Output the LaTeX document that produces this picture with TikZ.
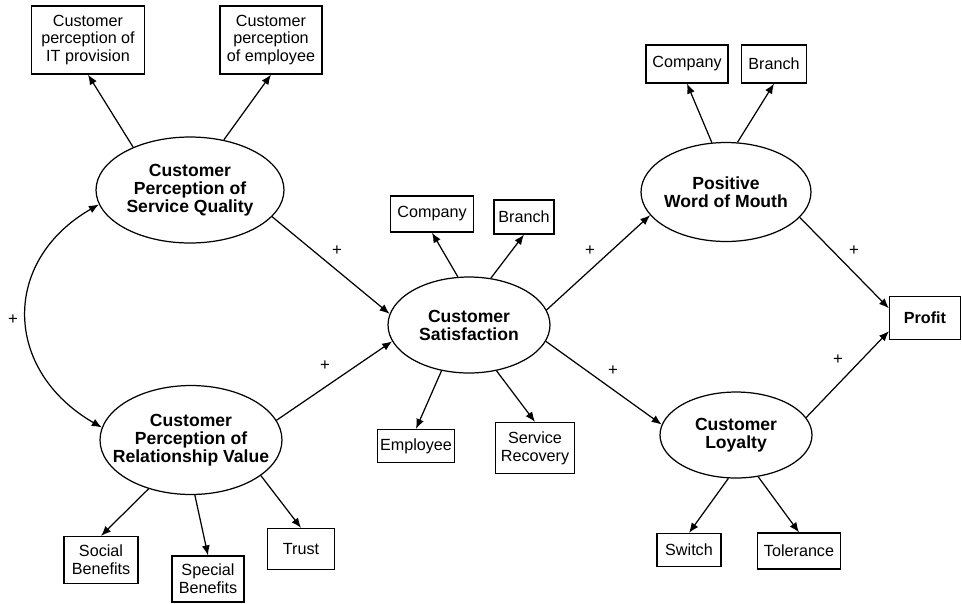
\documentclass[tikz,border=0pt]{standalone}
\usepackage{fontspec}
\setmainfont{Liberation Sans}
\usetikzlibrary{shapes.geometric,arrows.meta}
\begin{document}
\begin{tikzpicture}[x=0.02cm, y=-0.02cm, line width=0.7pt,
        >={Latex[length=2mm,width=1.6mm]},
        box/.style={draw, rectangle, inner sep=1pt, align=center, font=\fontsize{9.2}{10.2}\selectfont},
        lv/.style={draw, ellipse, inner sep=-10pt, align=center, font=\fontsize{10}{10.2}\selectfont\bfseries},
        sign/.style={inner sep=0pt, font=\fontsize{9.5}{9.5}\selectfont}]
            \useasboundingbox (0,0) rectangle (962,603);
            \node[box, minimum width=2.26cm, minimum height=1.36cm] (itp) at (88,40) {Customer\\perception of\\IT provision};
            \node[box, minimum width=2.04cm, minimum height=1.36cm] (pemp) at (271,40) {Customer\\perception\\of employee};
            \node[lv, minimum width=3.76cm, minimum height=2.12cm] (sq) at (190,190) {Customer\\Perception of\\Service Quality};
            \node[lv, minimum width=3.64cm, minimum height=2.18cm] (rv) at (191,440) {Customer\\Perception of\\Relationship Value};
            \node[box, minimum width=1.48cm, minimum height=0.94cm] (soc) at (101,560) {Social\\Benefits};
            \node[box, minimum width=1.44cm, minimum height=0.92cm] (spe) at (208,579) {Special\\Benefits};
            \node[box, minimum width=1.34cm, minimum height=0.82cm] (tru) at (301,549) {Trust};
            \node[lv, minimum width=3.24cm, minimum height=1.92cm] (sat) at (469,325) {Customer\\Satisfaction};
            \node[box, minimum width=1.66cm, minimum height=0.72cm] (scomp) at (432,214) {Company};
            \node[box, minimum width=1.2cm, minimum height=0.68cm] (sbr) at (524,217) {Branch};
            \node[box, minimum width=1.54cm, minimum height=0.66cm] (semp) at (416,446) {Employee};
            \node[box, minimum width=1.58cm, minimum height=1.02cm] (srec) at (535,448) {Service\\Recovery};
            \node[lv, minimum width=3.4cm, minimum height=1.98cm] (wom) at (726,192) {Positive\\Word of Mouth};
            \node[box, minimum width=1.64cm, minimum height=0.76cm] (wcomp) at (687,64) {Company};
            \node[box, minimum width=1.3cm, minimum height=0.76cm] (wbr) at (774,64) {Branch};
            \node[lv, minimum width=3.04cm, minimum height=1.72cm] (loy) at (736,435) {Customer\\Loyalty};
            \node[box, minimum width=1.28cm, minimum height=0.66cm] (sw) at (689,550) {Switch};
            \node[box, minimum width=1.66cm, minimum height=0.72cm] (tol) at (799,551) {Tolerance};
            \node[box, minimum width=1.42cm, minimum height=0.86cm] (prof) at (925,318) {\bfseries Profit};
            \node[sign] (p1) at (13,320) {+};
            \node[sign] (p2) at (337,251) {+};
            \node[sign] (p3) at (325,366) {+};
            \node[sign] (p4) at (590,251) {+};
            \node[sign] (p5) at (613,371) {+};
            \node[sign] (p6) at (854,251) {+};
            \node[sign] (p7) at (838,360) {+};
            \path [->] (sq.143) edge (itp.south);
            \path [->] (sq.56) edge (pemp.south);
            \path [<->] (sq.189) edge[out=210, in=150, looseness=1.3] (rv.172);
            \path [->] (sq.-18) edge (sat.172);
            \path [->] (rv.13) edge (sat.192);
            \path [->] (rv.-131) edge (soc.north);
            \path [->] (rv.-86) edge (spe.north);
            \path [->] (rv.-27) edge (tru.north);
            \path [->] (sat.103) edge (scomp.south);
            \path [->] (sat.65) edge (sbr.south);
            \path [->] (sat.-121) edge (semp.north);
            \path [->] (sat.-59) edge (srec.north);
            \path [->] (sat.11) edge (wom.197);
            \path [->] (sat.-12) edge (loy.172);
            \path [->] (wom.106) edge (wcomp.south);
            \path [->] (wom.77) edge (wbr.south);
            \path [->] (wom.-19) edge (prof.165);
            \path [->] (loy.14) edge (prof.200);
            \path [->] (loy.-100) edge (sw.north);
            \path [->] (loy.-62) edge (tol.north);
        \end{tikzpicture}
\end{document}
